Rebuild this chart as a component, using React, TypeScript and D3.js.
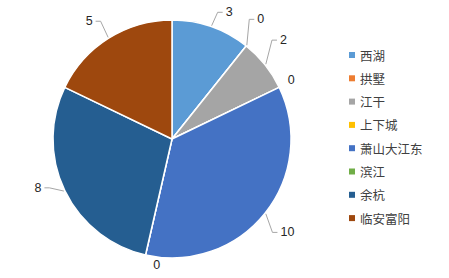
import React from "react";
import * as d3 from "d3";

const categories = ["西湖", "拱墅", "江干", "上下城", "萧山大江东", "滨江", "余杭", "临安富阳"];
const values = [3, 0, 2, 0, 10, 0, 8, 5];
const colors = ["#5B9BD5", "#ED7D31", "#A5A5A5", "#FFC000", "#4472C4", "#70AD47", "#255E91", "#9E480E"];

// label layout tweaks (best-fit placement): angular nudge in degrees, extra radial distance
const labelNudgeDeg = [5, -2, -3, -0.7, 0.4, -6, 5.7, -3];
const labelExtra = [20, 30, 30, 14, 29.5, 8, 23.7, 25];

const W = 449;
const H = 278;
const cx = 172;
const cy = 139;
const R = 119;

export default function App() {
  const pie = d3.pie<number>().sort(null).value((d) => d)(values);
  const arc = d3.arc<d3.PieArcDatum<number>>().innerRadius(0).outerRadius(R);
  const font = "'Liberation Sans', 'Noto Sans CJK SC', sans-serif";
  const cjk = "'Noto Sans CJK SC', sans-serif";

  const labels = pie.map((p, i) => {
    const mid = (p.startAngle + p.endAngle) / 2;
    const la = mid + (labelNudgeDeg[i] * Math.PI) / 180;
    const lr = R + labelExtra[i];
    const lx = cx + lr * Math.sin(la);
    const ly = cy - lr * Math.cos(la);
    const text = String(values[i]);
    const w = text.length * 7;
    const right = lx >= cx;
    const ax = cx + (R + 1) * Math.sin(mid);
    const ay = cy - (R + 1) * Math.cos(mid);
    let line: string | null = null;
    if (labelExtra[i] > 15) {
      const bx = right ? lx - w / 2 - 3 : lx + w / 2 + 3;
      const ex = right ? lx - w / 2 - 8 : lx + w / 2 + 8;
      line = `M${ax},${ay}L${ex},${ly}L${bx},${ly}`;
    }
    return { lx, ly, text, line };
  });

  return (
    <svg width={W} height={H} style={{ display: "block", position: "absolute", left: 0, top: 0 }}>
      <rect width={W} height={H} fill="#fff" />
      <g transform={`translate(${cx},${cy})`}>
        {pie.map((p, i) => (
          <path key={i} d={arc(p) || ""} fill={colors[i]} stroke="#fff" strokeWidth={1.5} strokeLinejoin="round" />
        ))}
      </g>
      {labels.map((l, i) =>
        l.line ? <path key={"l" + i} d={l.line} fill="none" stroke="#A6A6A6" strokeWidth={1} /> : null
      )}
      {labels.map((l, i) => (
        <text
          key={"t" + i}
          x={l.lx}
          y={l.ly}
          textAnchor="middle"
          dominantBaseline="central"
          fontFamily={font}
          fontSize={12.5}
          fill="#262626"
        >
          {l.text}
        </text>
      ))}
      {categories.map((c, i) => {
        const y = 55 + i * 23.3;
        return (
          <g key={"g" + i}>
            <rect x={349} y={y - 3} width={6} height={6} fill={colors[i]} />
            <text x={360} y={y} dominantBaseline="central" fontFamily={cjk} fontSize={12.5} fill="#404040">
              {c}
            </text>
          </g>
        );
      })}
    </svg>
  );
}
